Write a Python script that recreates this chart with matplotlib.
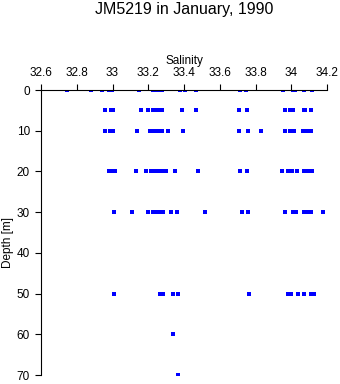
import numpy as np
import matplotlib
matplotlib.use("Agg")
from matplotlib import pyplot as plt

plt.rcParams['font.family'] = ['Liberation Sans', 'DejaVu Sans']

# salinity readings per sampling depth
sal_0 = [32.744, 32.880, 32.943, 32.981, 32.996, 33.150, 33.227, 33.238, 33.249, 33.262,
         33.276, 33.378, 33.406, 33.468, 33.714, 33.748, 33.953, 34.009, 34.022, 34.069, 34.116]
sal_5 = [32.958, 32.992, 33.003, 33.160, 33.201, 33.227, 33.244, 33.261, 33.276, 33.391,
         33.468, 33.710, 33.755, 33.966, 33.994, 34.011, 34.069, 34.078, 34.108]
sal_10 = [32.958, 32.986, 33.001, 33.139, 33.210, 33.233, 33.257, 33.279, 33.309, 33.397,
          33.709, 33.757, 33.828, 33.966, 33.994, 34.013, 34.063, 34.088, 34.108]
sal_20 = [32.983, 33.000, 33.016, 33.130, 33.188, 33.216, 33.235, 33.255, 33.276, 33.300,
          33.352, 33.481, 33.714, 33.752, 33.948, 33.979, 34.004, 34.032, 34.069, 34.091, 34.116]
sal_30 = [33.010, 33.111, 33.201, 33.225, 33.245, 33.265, 33.285, 33.328, 33.360, 33.520,
          33.727, 33.757, 33.966, 34.007, 34.028, 34.074, 34.095, 34.110, 34.175]
sal_50 = [33.009, 33.266, 33.285, 33.337, 33.365, 33.765, 33.979, 34.000, 34.035, 34.069,
          34.112, 34.125]
sal_60 = [33.339]
sal_70 = [33.367]

depths = [0, 5, 10, 20, 30, 50, 60, 70]
salinity = [sal_0, sal_5, sal_10, sal_20, sal_30, sal_50, sal_60, sal_70]

x_ticks = [32.6, 32.8, 33, 33.2, 33.4, 33.6, 33.8, 34, 34.2]
x_labels = ['32.6', '32.8', '33', '33.2', '33.4', '33.6', '33.8', '34', '34.2']
y_ticks = [0, 10, 20, 30, 40, 50, 60, 70]

fig = plt.figure(figsize=(3.4, 3.84), dpi=100)
ax = fig.add_axes([0.1206, 0.0234, 0.8412, 0.7422])

for d, s in zip(depths, salinity):
    ax.plot(s, [d] * len(s), linestyle='none', marker='s', markersize=2.2,
            color='#0000ff', markeredgewidth=0)

ax.set_xlim(32.6, 34.2)
ax.set_ylim(70, 0)
ax.xaxis.tick_top()
ax.xaxis.set_label_position('top')
ax.set_xticks(x_ticks)
ax.set_xticklabels(x_labels)
ax.set_yticks(y_ticks)
ax.tick_params(direction='out', length=4, width=0.8, labelsize=8.5, colors='black', pad=4)
for side in ['right', 'bottom']:
    ax.spines[side].set_visible(False)
for side in ['left', 'top']:
    ax.spines[side].set_linewidth(0.8)

ax.set_xlabel('Salinity', fontsize=8.5, labelpad=2)
fig.text(7.5 / 340, 1 - 243 / 384, 'Depth [m]', rotation=90, ha='center', va='center', fontsize=8.5)
fig.text(184 / 340, 0.995, 'JM5219 in January, 1990', ha='center', va='top', fontsize=11.5)

plt.savefig('out.png', dpi=100)
